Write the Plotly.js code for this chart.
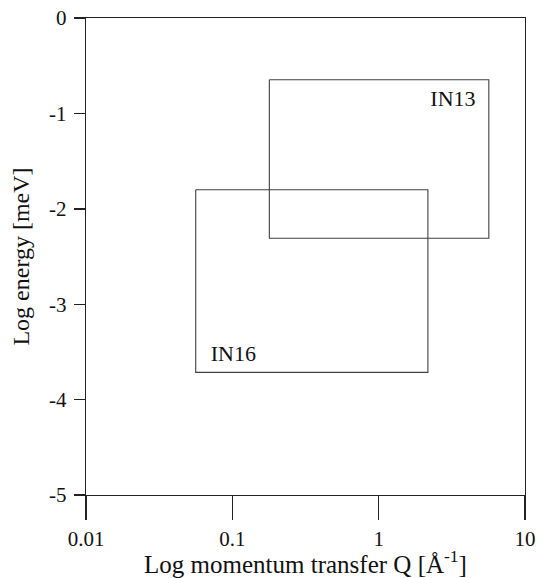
<!DOCTYPE html>
<html>
<head>
<meta charset="utf-8">
<script src="https://cdn.plot.ly/plotly-3.0.1.min.js"></script>
<style>html,body{margin:0;padding:0;background:#fff;}#chart{width:540px;height:578px;}</style>
</head>
<body>
<div id="chart"></div>
<script>
// Instrument windows: momentum transfer Q range [Å^-1] and log energy range [meV]
const in13Q = [0.179, 5.66];
const in13E = [-0.647, -2.308];
const in16Q = [0.0562, 2.17];
const in16E = [-1.80, -3.715];
const labelNames = ['IN13', 'IN16'];
const labelQ = [3.22, 0.1017];
const labelE = [-0.863, -3.538];
const xTickVals = [0.01, 0.1, 1, 10];
const xTickText = ['0.01', '0.1', '1', '10'];
const yTickVals = [0, -1, -2, -3, -4, -5];
const yTickText = ['0', '-1', '-2', '-3', '-4', '-5'];

function boxPath(q, e) {
  return {
    x: [q[0], q[1], q[1], q[0], q[0]],
    y: [e[0], e[0], e[1], e[1], e[0]]
  };
}
const b13 = boxPath(in13Q, in13E);
const b16 = boxPath(in16Q, in16E);
const lineStyle = {color: '#404040', width: 1.1};
const fam = 'Liberation Serif, Times New Roman, serif';
function f(size) { return {family: fam, size: size, color: '#111'}; }

const traces = [
  {x: b13.x, y: b13.y, mode: 'lines', line: lineStyle, hoverinfo: 'skip', showlegend: false},
  {x: b16.x, y: b16.y, mode: 'lines', line: lineStyle, hoverinfo: 'skip', showlegend: false},
  {x: labelQ, y: labelE, mode: 'text', text: labelNames, textposition: 'middle center',
   textfont: f(22), hoverinfo: 'skip', showlegend: false}
];

const layout = {
  width: 540, height: 578,
  margin: {l: 86, r: 15, t: 18, b: 83},
  paper_bgcolor: '#fff', plot_bgcolor: '#fff',
  font: f(21),
  showlegend: false,
  xaxis: {
    type: 'log', range: [-2, 1],
    tickvals: xTickVals, ticktext: xTickText,
    ticks: 'outside', ticklen: 24, tickwidth: 1.4, tickcolor: '#222',
    showline: true, linecolor: '#222', linewidth: 1.4, mirror: true,
    showgrid: false, zeroline: false,
    tickfont: f(21),
    title: {text: 'Log momentum transfer Q [Å<sup>-1</sup>]', font: f(25), standoff: 4}
  },
  yaxis: {
    range: [-5, 0],
    tickvals: yTickVals, ticktext: yTickText,
    ticks: 'outside', ticklen: 11, tickwidth: 1.4, tickcolor: '#222',
    showline: true, linecolor: '#222', linewidth: 1.4, mirror: true,
    showgrid: false, zeroline: false,
    ticklabelstandoff: 3,
    tickfont: f(21),
    title: {text: 'Log energy [meV]', font: f(24), standoff: 12}
  }
};

Plotly.newPlot('chart', traces, layout, {displayModeBar: false, staticPlot: true});
</script>
</body>
</html>
